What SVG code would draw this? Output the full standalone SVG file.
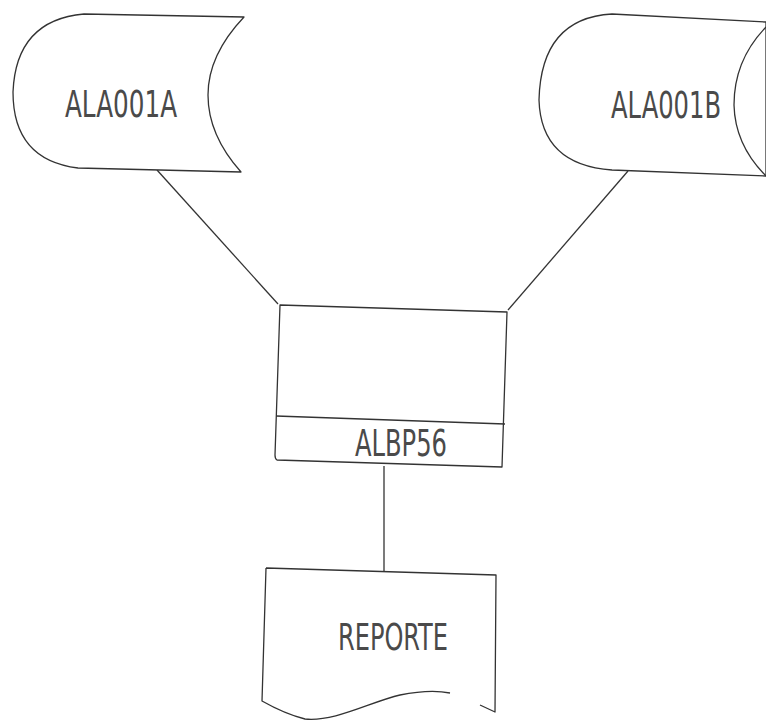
<svg xmlns="http://www.w3.org/2000/svg" width="766" height="721" viewBox="0 0 766 721">
<style>
.s{fill:none;stroke:#333;stroke-width:1.3;stroke-linejoin:round}
.w{fill:#fff;stroke:#333;stroke-width:1.3;stroke-linejoin:round}
.t{font-family:"DejaVu Sans Condensed","DejaVu Sans","Liberation Sans",sans-serif;font-weight:200;fill:#4a4a4a;text-anchor:middle}
</style>
<rect width="766" height="721" fill="#fff"/>
<g id="connectors">
<line class="s" x1="157" y1="170" x2="278" y2="304"/>
<line class="s" x1="628" y1="171" x2="508" y2="310"/>
<line class="s" x1="384" y1="466" x2="384" y2="571"/>
</g>
<g id="ALA001A">
<path class="w" d="M84,14 L244,17 Q208,55 208,95 Q208,135 241,172 L78,168 Q13,160 13,92 Q16,20 84,14 Z"/>
<text class="t" x="121" y="117" font-size="38" textLength="112" lengthAdjust="spacingAndGlyphs">ALA001A</text>
</g>
<g id="ALA001B">
<path class="w" d="M612,14 L766,22 L766,176 L612,170 Q541,165 539,100 Q541,18 612,14 Z"/>
<path class="s" d="M766,27 Q734,60 734,105 Q735,145 766,176"/>
<text class="t" x="666" y="118" font-size="38" textLength="110" lengthAdjust="spacingAndGlyphs">ALA001B</text>
</g>
<g id="ALBP56">
<path class="w" d="M280,305 L507,312 L502,467 L277,460 Q275,459 275,455 Z"/>
<line class="s" x1="276" y1="416" x2="505" y2="424"/>
<text class="t" x="401" y="456" font-size="38" textLength="92" lengthAdjust="spacingAndGlyphs">ALBP56</text>
</g>
<g id="REPORTE">
<path class="w" d="M266,568 L496,575 L495,712 L480,705 M450,693 Q430,689 400,695 C370,702 335,722 305,719 Q285,714 262,701 L266,568"/>
<text class="t" x="393" y="650" font-size="38" textLength="110" lengthAdjust="spacingAndGlyphs">REPORTE</text>
</g>
</svg>
